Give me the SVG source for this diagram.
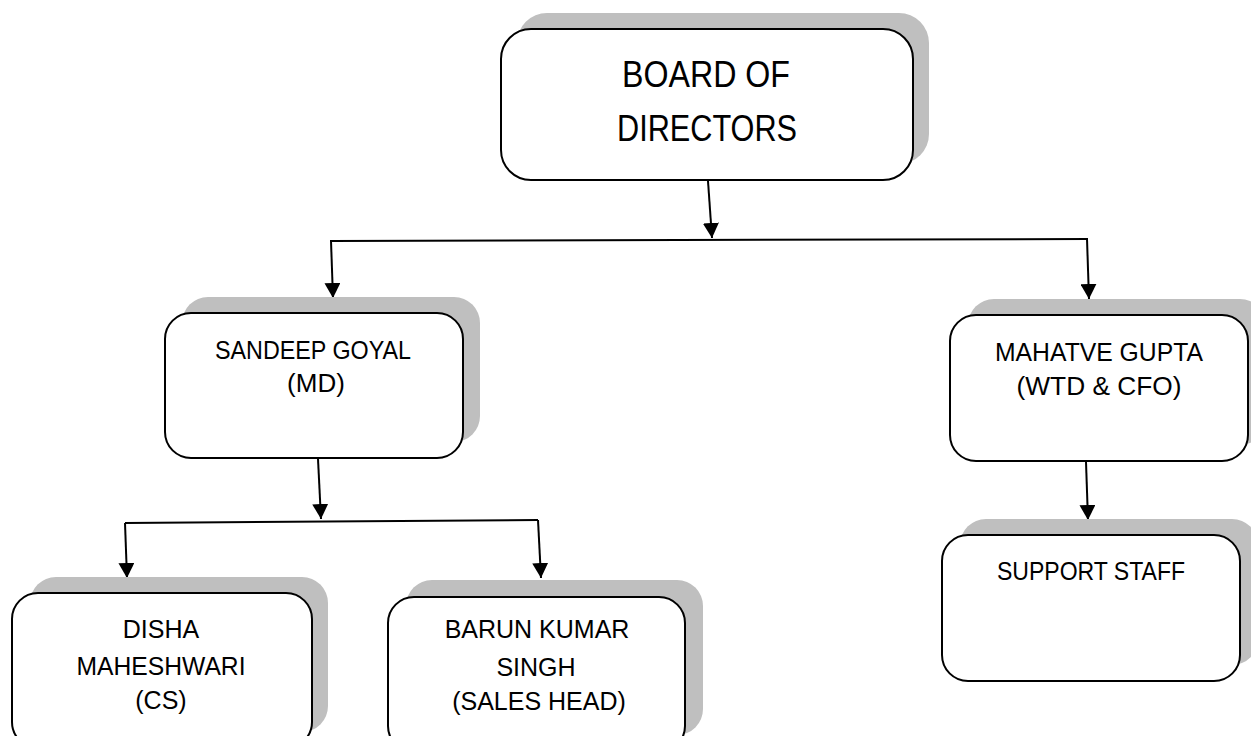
<svg xmlns="http://www.w3.org/2000/svg" width="1251" height="736" viewBox="0 0 1251 736">
  <defs>
    <style>
      .shadow { fill: #bfbfbf; stroke: none; }
      .box { fill: #ffffff; stroke: #000000; stroke-width: 2; }
      .label { font-family: "Liberation Sans", Arial, sans-serif; font-size: 25px; fill: #000000; text-anchor: middle; }
      .mid { font-size: 26px; }
      .big { font-size: 36px; }
      .conn { stroke: #000000; stroke-width: 2; fill: none; }
    </style>
    <marker id="arrow" markerUnits="userSpaceOnUse" markerWidth="16" markerHeight="16" refX="15" refY="8" orient="auto">
      <path d="M0,0 L15,8 L0,16 z" fill="#000000"/>
    </marker>
  </defs>
  <rect width="1251" height="736" fill="#ffffff"/>

  <g id="connectors">
    <line class="conn" x1="708" y1="181" x2="712" y2="238" marker-end="url(#arrow)"/>
    <line class="conn" x1="330" y1="241" x2="1088" y2="239"/>
    <line class="conn" x1="331" y1="241" x2="333" y2="298" marker-end="url(#arrow)"/>
    <line class="conn" x1="1087" y1="239" x2="1089" y2="299" marker-end="url(#arrow)"/>
    <line class="conn" x1="318" y1="459" x2="321" y2="519" marker-end="url(#arrow)"/>
    <line class="conn" x1="125" y1="523" x2="538" y2="520"/>
    <line class="conn" x1="125" y1="523" x2="127" y2="578" marker-end="url(#arrow)"/>
    <line class="conn" x1="538" y1="520" x2="541" y2="578" marker-end="url(#arrow)"/>
    <line class="conn" x1="1086" y1="462" x2="1088" y2="520" marker-end="url(#arrow)"/>
  </g>

  <g id="board">
    <rect class="shadow" x="517" y="13" width="412" height="151" rx="30"/>
    <rect class="box" x="501" y="29" width="412" height="151" rx="30"/>
    <text class="label big" x="706" y="87" textLength="168" lengthAdjust="spacingAndGlyphs">BOARD OF</text>
    <text class="label big" x="707" y="141" textLength="180" lengthAdjust="spacingAndGlyphs">DIRECTORS</text>
  </g>

  <g id="sandeep">
    <rect class="shadow" x="182" y="297" width="298" height="145" rx="26"/>
    <rect class="box" x="165" y="313" width="298" height="145" rx="26"/>
    <text class="label mid" x="313" y="359" textLength="196" lengthAdjust="spacingAndGlyphs">SANDEEP GOYAL</text>
    <text class="label mid" x="316" y="392">(MD)</text>
  </g>

  <g id="mahatve">
    <rect class="shadow" x="968" y="299" width="298" height="146" rx="26"/>
    <rect class="box" x="950" y="315" width="298" height="146" rx="26"/>
    <text class="label mid" x="1099" y="361" textLength="208" lengthAdjust="spacingAndGlyphs">MAHATVE GUPTA</text>
    <text class="label mid" x="1099" y="395" textLength="165" lengthAdjust="spacingAndGlyphs">(WTD &amp; CFO)</text>
  </g>

  <g id="support">
    <rect class="shadow" x="960" y="519" width="298" height="146" rx="26"/>
    <rect class="box" x="942" y="535" width="298" height="146" rx="26"/>
    <text class="label" x="1091" y="580" textLength="188" lengthAdjust="spacingAndGlyphs">SUPPORT STAFF</text>
  </g>

  <g id="disha">
    <rect class="shadow" x="30" y="577" width="298" height="155" rx="26"/>
    <rect class="box" x="12" y="593" width="300" height="155" rx="26"/>
    <text class="label" x="161" y="638">DISHA</text>
    <text class="label" x="161" y="675" textLength="169" lengthAdjust="spacingAndGlyphs">MAHESHWARI</text>
    <text class="label" x="161" y="709">(CS)</text>
  </g>

  <g id="barun">
    <rect class="shadow" x="406" y="580" width="297" height="155" rx="26"/>
    <rect class="box" x="388" y="597" width="297" height="155" rx="26"/>
    <text class="label" x="537" y="638">BARUN KUMAR</text>
    <text class="label" x="536" y="676">SINGH</text>
    <text class="label" x="539" y="710">(SALES HEAD)</text>
  </g>
</svg>
